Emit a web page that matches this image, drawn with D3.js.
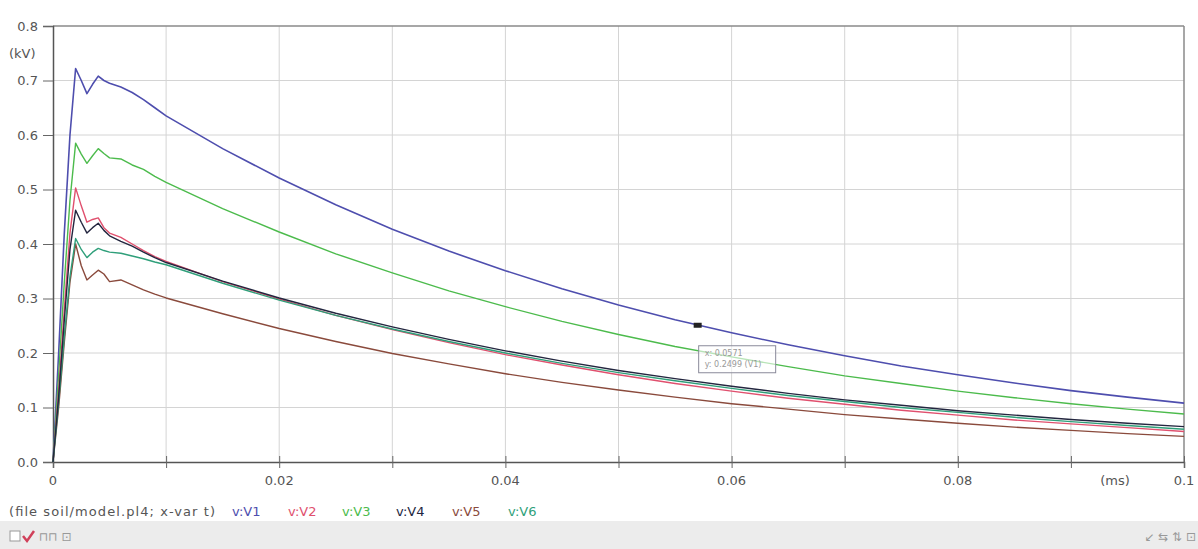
<!DOCTYPE html>
<html>
<head>
<meta charset="utf-8">
<script src="https://cdn.jsdelivr.net/npm/d3@7"></script>
<style>
  body { margin: 0; background: #fff; }
  svg { display: block; font-family: "DejaVu Sans", Verdana, sans-serif; }
</style>
</head>
<body>
<div id="chart"></div>
<script>
// time axis (ms) shared by all series
var times = [0, 0.0005, 0.001, 0.0015, 0.002, 0.0025, 0.003, 0.0035, 0.004, 0.0045,
    0.005, 0.006, 0.007, 0.008, 0.009, 0.01, 0.015, 0.02, 0.025, 0.03, 0.035, 0.04,
    0.045, 0.05, 0.055, 0.06, 0.065, 0.07, 0.075, 0.08, 0.085, 0.09, 0.095, 0.1];

// voltages (kV)
var v1 = [0, 0.2, 0.42, 0.6, 0.722, 0.7, 0.676, 0.693, 0.708, 0.7,
    0.695, 0.688, 0.678, 0.665, 0.65, 0.635, 0.575, 0.521, 0.472, 0.427, 0.387, 0.351,
    0.318, 0.288, 0.261, 0.237, 0.215, 0.195, 0.176, 0.16, 0.145, 0.131, 0.119, 0.108];
var v2 = [0, 0.13, 0.28, 0.42, 0.503, 0.47, 0.44, 0.445, 0.448, 0.43,
    0.42, 0.412, 0.4, 0.388, 0.377, 0.368, 0.331, 0.299, 0.269, 0.243, 0.219, 0.197,
    0.178, 0.16, 0.144, 0.13, 0.117, 0.106, 0.095, 0.086, 0.077, 0.07, 0.063, 0.056];
var v3 = [0, 0.16, 0.33, 0.48, 0.585, 0.565, 0.548, 0.562, 0.575, 0.566,
    0.558, 0.556, 0.545, 0.537, 0.524, 0.513, 0.465, 0.422, 0.382, 0.347, 0.314, 0.285,
    0.258, 0.234, 0.212, 0.193, 0.175, 0.158, 0.144, 0.13, 0.118, 0.107, 0.097, 0.088];
var v4 = [0, 0.12, 0.26, 0.39, 0.462, 0.44, 0.42, 0.43, 0.438, 0.425,
    0.415, 0.405, 0.396, 0.385, 0.375, 0.366, 0.332, 0.301, 0.273, 0.248, 0.225, 0.204,
    0.185, 0.168, 0.153, 0.139, 0.126, 0.114, 0.104, 0.094, 0.086, 0.078, 0.071, 0.065];
var v5 = [0, 0.1, 0.22, 0.33, 0.4, 0.36, 0.334, 0.343, 0.352, 0.345,
    0.331, 0.334, 0.325, 0.316, 0.308, 0.301, 0.272, 0.245, 0.221, 0.199, 0.18, 0.162,
    0.146, 0.132, 0.119, 0.107, 0.097, 0.087, 0.079, 0.071, 0.064, 0.058, 0.052, 0.047];
var v6 = [0, 0.11, 0.23, 0.34, 0.41, 0.39, 0.375, 0.385, 0.392, 0.388,
    0.385, 0.383, 0.378, 0.373, 0.367, 0.362, 0.328, 0.297, 0.269, 0.244, 0.221, 0.2,
    0.181, 0.164, 0.149, 0.135, 0.122, 0.111, 0.1, 0.091, 0.082, 0.074, 0.067, 0.06];

var seriesNames = ["v:V1", "v:V2", "v:V3", "v:V4", "v:V5", "v:V6"];
var seriesColors = ["#4e4eae", "#e0506e", "#4cbb4c", "#23263f", "#8a4a3c", "#2f9f7a"];
var seriesValues = [v1, v2, v3, v4, v5, v6];
var drawOrder = [0, 2, 1, 4, 5, 3];

var yTicks = [0, 0.1, 0.2, 0.3, 0.4, 0.5, 0.6, 0.7, 0.8];
var xMinor = [0, 0.01, 0.02, 0.03, 0.04, 0.05, 0.06, 0.07, 0.08, 0.09, 0.1];
var xTickLabels = ["0", "0.02", "0.04", "0.06", "0.08", "0.1"];
var xLabelValues = [0, 0.02, 0.04, 0.06, 0.08, 0.1];

var cursorT = 0.057;
var cursorV = 0.25;
var cursorText = ["x: 0.0571", "y: 0.2499 (V1)"];
var fileLabel = "(file soil/model.pl4; x-var t)";

function draw() {
    var W = 1198, H = 549;
    var pLeft = 53, pRight = 1184, pTop = 26, pBottom = 462;
    var fs = 13;

    var svg = d3.select("#chart").append("svg")
        .attr("width", W).attr("height", H);

    var x = d3.scaleLinear().domain([0, 0.1]).range([pLeft, pRight]);
    var y = d3.scaleLinear().domain([0, 0.8]).range([pBottom, pTop]);

    // grid
    svg.append("g").selectAll("line")
        .data(xMinor.slice(1, -1)).enter().append("line")
        .attr("x1", d => x(d)).attr("x2", d => x(d))
        .attr("y1", pTop).attr("y2", pBottom)
        .attr("stroke", "#d4d4d4").attr("stroke-width", 1);
    svg.append("g").selectAll("line")
        .data(yTicks.slice(1, -1)).enter().append("line")
        .attr("x1", pLeft).attr("x2", pRight)
        .attr("y1", d => y(d)).attr("y2", d => y(d))
        .attr("stroke", "#d4d4d4").attr("stroke-width", 1);

    // frame top / right
    svg.append("line").attr("x1", pLeft).attr("x2", pRight).attr("y1", pTop).attr("y2", pTop)
        .attr("stroke", "#8a8a8a").attr("stroke-width", 1.5);
    svg.append("line").attr("x1", pRight).attr("x2", pRight).attr("y1", pTop).attr("y2", pBottom)
        .attr("stroke", "#8a8a8a").attr("stroke-width", 1.5);

    // y axis
    var yAxis = svg.append("g")
        .attr("transform", "translate(" + pLeft + ",0)")
        .call(d3.axisLeft(y).tickValues(yTicks).tickFormat(d3.format(".1f")).tickSize(10).tickPadding(5));
    yAxis.select(".domain").attr("stroke", "#555").attr("stroke-width", 1.5);
    yAxis.selectAll(".tick line").attr("stroke", "#666");
    yAxis.selectAll("text").attr("font-size", fs).attr("fill", "#555")
        .attr("font-family", "DejaVu Sans, sans-serif");

    svg.append("text").attr("x", 9).attr("y", y(0.75) + 5)
        .attr("font-size", fs).attr("fill", "#555").text("(kV)");

    // x axis
    var xAxis = svg.append("g")
        .attr("transform", "translate(0," + pBottom + ")")
        .call(d3.axisBottom(x).tickValues(xMinor).tickFormat("").tickSize(6));
    xAxis.select(".domain").attr("stroke", "#555").attr("stroke-width", 1.5);
    xAxis.selectAll(".tick line").attr("stroke", "#666").attr("y1", -6);

    svg.append("g").selectAll("text")
        .data(xLabelValues).enter().append("text")
        .attr("x", d => x(d)).attr("y", pBottom + 23)
        .attr("text-anchor", "middle")
        .attr("font-size", fs).attr("fill", "#555")
        .text((d, i) => xTickLabels[i]);

    svg.append("text").attr("x", x(0.0939)).attr("y", pBottom + 23)
        .attr("text-anchor", "middle").attr("font-size", fs).attr("fill", "#555").text("(ms)");

    // curves
    var line = d3.line()
        .x(d => x(d[0]))
        .y(d => y(d[1]));

    drawOrder.forEach(function (k) {
        var pts = times.map((t, i) => [t, seriesValues[k][i]]);
        svg.append("path")
            .attr("d", line(pts))
            .attr("fill", "none")
            .attr("stroke", seriesColors[k])
            .attr("stroke-width", k === 0 ? 1.6 : 1.4)
            .attr("stroke-linejoin", "round");
    });

    // cursor marker + readout box
    svg.append("rect")
        .attr("x", x(cursorT) - 4).attr("y", y(cursorV) - 3)
        .attr("width", 8).attr("height", 5).attr("fill", "#222");
    var box = svg.append("g")
        .attr("transform", "translate(" + (x(cursorT) + 1) + "," + (y(cursorV) + 20) + ")");
    box.append("rect").attr("width", 77).attr("height", 27)
        .attr("fill", "#fff").attr("fill-opacity", 0.6)
        .attr("stroke", "#8a8a9a").attr("stroke-width", 1);
    box.selectAll("text").data(cursorText).enter().append("text")
        .attr("x", 6).attr("y", (d, i) => 10 + i * 11)
        .attr("font-size", 8).attr("fill", "#999").text(d => d);

    // legend row
    var legend = svg.append("g").attr("transform", "translate(0," + (pBottom + 54) + ")");
    legend.append("text").attr("x", 9).attr("font-size", fs).attr("fill", "#555")
        .attr("textLength", 206).attr("lengthAdjust", "spacing").text(fileLabel);
    var legendX = [232, 288, 342, 396, 452, 508];
    legend.selectAll("text.ser").data(seriesNames).enter().append("text")
        .attr("class", "ser")
        .attr("x", (d, i) => legendX[i])
        .attr("font-size", fs)
        .attr("fill", (d, i) => seriesColors[i])
        .text(d => d);

    // bottom toolbar
    svg.append("rect").attr("x", 0).attr("y", 521).attr("width", W).attr("height", 28).attr("fill", "#ececec");
    var tb = svg.append("g").attr("transform", "translate(10,531)");
    tb.append("rect").attr("width", 10).attr("height", 10).attr("fill", "#fff").attr("stroke", "#999");
    tb.append("path").attr("d", "M13,5 L17,10 L24,0").attr("fill", "none")
        .attr("stroke", "#d0405a").attr("stroke-width", 2.5);
    tb.append("text").attr("x", 29).attr("y", 10).attr("font-size", 12).attr("fill", "#999").text("⊓⊓ ⊡");
    svg.append("text").attr("x", 1196).attr("y", 541).attr("text-anchor", "end")
        .attr("font-size", 12).attr("fill", "#999").text("↙ ⇆ ⇅ ⊡");
}

draw();
</script>
</body>
</html>
